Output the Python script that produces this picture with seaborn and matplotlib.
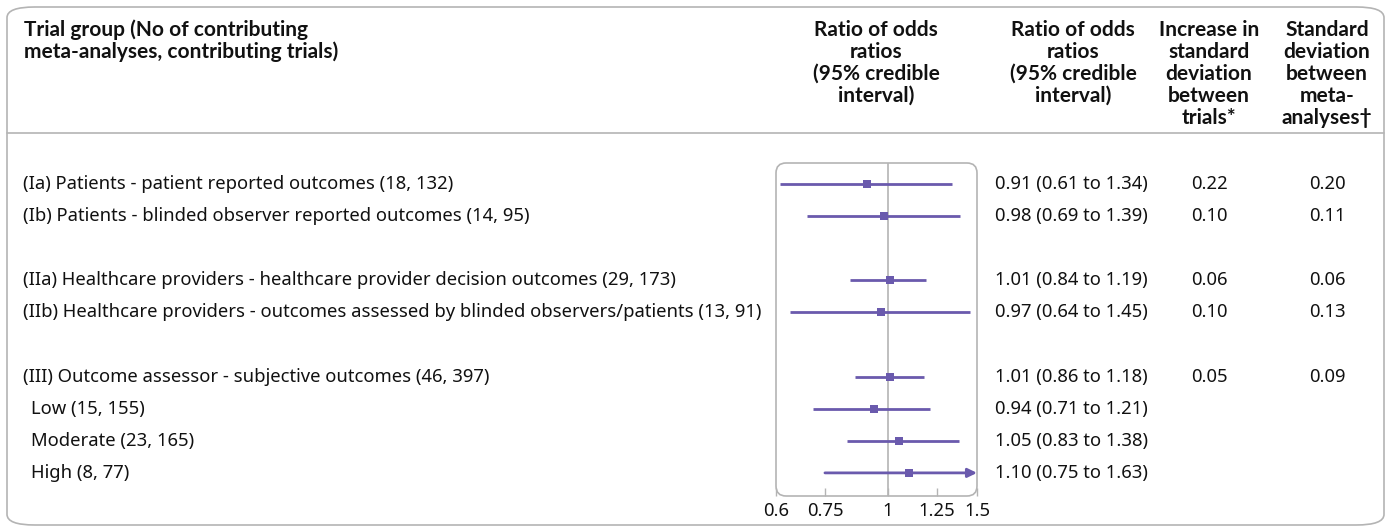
import numpy as np
import pandas as pd
import seaborn as sns
import matplotlib.pyplot as plt
from matplotlib.patches import FancyBboxPatch
from matplotlib.transforms import blended_transform_factory

# === data ===
labels = [
    "(Ia) Patients - patient reported outcomes (18, 132)",
    "(Ib) Patients - blinded observer reported outcomes (14, 95)",
    "(IIa) Healthcare providers - healthcare provider decision outcomes (29, 173)",
    "(IIb) Healthcare providers - outcomes assessed by blinded observers/patients (13, 91)",
    "(III) Outcome assessor - subjective outcomes (46, 397)",
    "Low (15, 155)",
    "Moderate (23, 165)",
    "High (8, 77)",
]
row_pos = [0, 1, 3, 4, 6, 7, 8, 9]
indent = [False, False, False, False, False, True, True, True]
ror = [0.91, 0.98, 1.01, 0.97, 1.01, 0.94, 1.05, 1.10]
lower = [0.61, 0.69, 0.84, 0.64, 0.86, 0.71, 0.83, 0.75]
upper = [1.34, 1.39, 1.19, 1.45, 1.18, 1.21, 1.38, 1.63]
sd_trials = ["0.22", "0.10", "0.06", "0.10", "0.05", "", "", ""]
sd_meta = ["0.20", "0.11", "0.06", "0.13", "0.09", "", "", ""]
xticks = [0.6, 0.75, 1, 1.25, 1.5]
xtick_labels = ["0.6", "0.75", "1", "1.25", "1.5"]

headers = [
    (24, "left", ["Trial group (No of contributing", "meta-analyses, contributing trials)"]),
    (876, "center", ["Ratio of odds", "ratios", "(95% credible", "interval)"]),
    (1073, "center", ["Ratio of odds", "ratios", "(95% credible", "interval)"]),
    (1209, "center", ["Increase in", "standard", "deviation", "between", "trials*"]),
    (1327, "center", ["Standard", "deviation", "between", "meta-", "analyses†"]),
]

df = pd.DataFrame({"label": labels, "row": row_pos, "ror": ror,
                   "lower": lower, "upper": upper})

purple = "#6a5aad"
grey = "#b4b4b4"
ink = "#111111"
W, H = 1390, 530
body_font = ["Noto Sans", "DejaVu Sans"]
head_font = ["Lato", "DejaVu Sans"]

sns.set_theme(style="white")
plt.rcParams["font.family"] = head_font

fig = plt.figure(figsize=(13.9, 5.3), dpi=100)
renderer = fig.canvas.get_renderer()


def fit_size(s, family, weight, target_px, base=12.0):
    t = fig.text(0, 0, s, fontsize=base, family=family, fontweight=weight)
    w = t.get_window_extent(renderer).width
    t.remove()
    return base * target_px / w


body_size = fit_size(labels[3], body_font, "normal", 734)
head_size = 0.5 * (fit_size("Increase in", head_font, "bold", 100)
                   + fit_size("Ratio of odds", head_font, "bold", 122))

# outer frame + header rule
frame = FancyBboxPatch((7 / W, 1 - 525 / H), 1377 / W, 518 / H,
                       boxstyle="round,pad=0,rounding_size=0.02",
                       transform=fig.transFigure, fill=False,
                       edgecolor=grey, linewidth=1.2)
fig.patches.append(frame)
fig.add_artist(plt.Line2D([7 / W, 1384 / W], [1 - 133 / H] * 2,
                          transform=fig.transFigure, color=grey, lw=1.2))

# header texts, one line at a time (22 px pitch)
for x, ha, lines in headers:
    for k, line in enumerate(lines):
        fig.text(x / W, 1 - (28 + 22 * k) / H, line, ha=ha, va="center_baseline",
                 fontsize=head_size, fontweight="bold", color=ink, family=head_font)

# forest axes
ax = fig.add_axes([776 / W, 1 - 496 / H, 201 / W, 333 / H])
ax.set_xscale("log")
ax.set_xlim(0.6, 1.5)
ax.set_ylim(9.72, -0.654)
ax.axvline(1, color=grey, lw=1.2, zorder=1)

inside = df["upper"] <= 1.5
ax.hlines(df.loc[inside, "row"], df.loc[inside, "lower"], df.loc[inside, "upper"],
          color=purple, lw=2, zorder=2)
for _, r in df[~inside].iterrows():
    ax.annotate("", xy=(1.5, r["row"]), xytext=(r["lower"], r["row"]),
                arrowprops=dict(arrowstyle="-|>,head_length=0.45,head_width=0.22",
                                color=purple, lw=2, shrinkA=0, shrinkB=0),
                zorder=2)
sns.scatterplot(data=df, x="ror", y="row", marker="s", s=36, color=purple,
                edgecolor=purple, linewidth=0, ax=ax, zorder=3, legend=False)

for s in ax.spines.values():
    s.set_visible(False)
box = FancyBboxPatch((0, 0), 1, 1, boxstyle="round,pad=0,rounding_size=0.05",
                     transform=ax.transAxes, fill=False, edgecolor=grey,
                     linewidth=1.2, clip_on=False, mutation_aspect=201 / 333)
ax.add_patch(box)
ax.set_yticks([])
ax.set_xticks(xticks)
ax.set_xticklabels(xtick_labels, family=body_font)
ax.xaxis.set_minor_locator(plt.NullLocator())
ax.tick_params(axis="x", direction="in", length=6, color=grey, width=1,
               labelsize=body_size, pad=4, labelcolor=ink, bottom=True)
ax.set_xlabel("")
ax.set_ylabel("")

# row texts
tr = blended_transform_factory(fig.transFigure, ax.transData)
txt = dict(fontsize=body_size, va="center", color=ink, transform=tr,
           family=body_font)
for i, r in df.iterrows():
    x0 = 31 if indent[i] else 23
    fig.text(x0 / W, r["row"], r["label"], ha="left", **txt)
    fig.text(995 / W, r["row"], f"{r['ror']:.2f} ({r['lower']:.2f} to {r['upper']:.2f})",
             ha="left", **txt)
    fig.text(1209 / W, r["row"], sd_trials[i], ha="center", **txt)
    fig.text(1327 / W, r["row"], sd_meta[i], ha="center", **txt)

fig.savefig("out.png", dpi=100)
